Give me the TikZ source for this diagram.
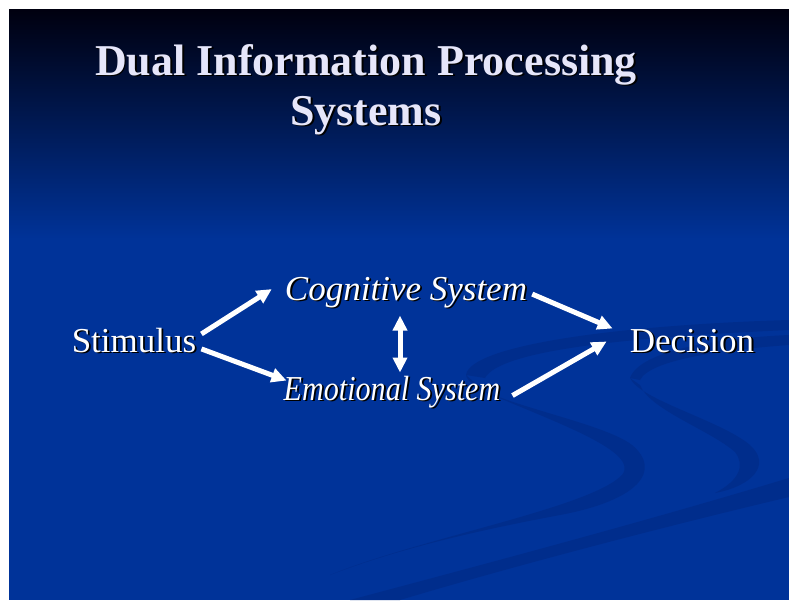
\documentclass[tikz,border=0pt]{standalone}
\usepackage{fontspec}
\setmainfont{Liberation Serif}
\newfontfamily\emofont[FakeStretch=0.86]{Liberation Serif}
\usepackage{tikz}
\usetikzlibrary{arrows.meta, calc}
\usepackage{xcolor}
\definecolor{slideTop}{HTML}{00000F}
\definecolor{slideBlue}{HTML}{003399}
\definecolor{swooshBlue}{HTML}{002D8C}
\definecolor{titleLavender}{HTML}{E6E6FA}
\definecolor{textShadow}{HTML}{000000}
\newcommand{\shadowed}[1]{\makebox[0pt][l]{\kern1.8pt\raisebox{-1.8pt}{\textcolor{textShadow}{#1}}}#1}
\tikzset{
    TitleText/.style={font=\fontsize{44}{50}\selectfont\bfseries, text=titleLavender, inner sep=0pt},
    PlainText/.style={font=\fontsize{35}{42}\selectfont, text=white, inner sep=0pt},
    SystemText/.style={font=\fontsize{35}{42}\selectfont\itshape, text=white, inner sep=0pt},
    Swoosh/.style={fill=swooshBlue, draw=none},
    FlowArrow/.style={-{Triangle[length=15pt, width=14pt]}, line width=5pt, white},
    BothArrow/.style={{Triangle[length=15pt, width=14pt]}-{Triangle[length=15pt, width=14pt]}, line width=5pt, white}
}

\begin{document}
\begin{tikzpicture}[x=1pt, y=-1pt]
    \useasboundingbox (0,0) rectangle (789,600);

    % slide background
    \shade[top color=slideTop, bottom color=slideBlue] (9,9) rectangle (789,240);
    \fill[slideBlue] (9,239.5) rectangle (789,600);

    % faint swooshes
    \begin{scope}
        \clip (9,9) rectangle (789,600);
        \path[Swoosh] (466,375) .. controls (470,345) and (620,325) .. (789,320) -- (789,330)
            .. controls (630,337) and (500,350) .. (485,378) -- cycle;
        \path[Swoosh] (466,375) .. controls (470,400) and (600,420) .. (632,445)
            .. controls (662,470) and (640,500) .. (560,515)
            .. controls (480,530) and (400,548) .. (330,575)
            .. controls (420,538) and (590,508) .. (622,475)
            .. controls (640,452) and (560,424) .. (485,392) -- cycle;
        \path[Swoosh] (630,378) .. controls (640,350) and (720,338) .. (789,335) -- (789,345)
            .. controls (720,350) and (650,360) .. (640,380) -- cycle;
        \path[Swoosh] (630,378) .. controls (640,400) and (720,420) .. (750,445)
            .. controls (772,465) and (752,486) .. (715,493)
            .. controls (740,480) and (745,465) .. (735,452)
            .. controls (710,430) and (650,410) .. (640,385) -- cycle;
        \path[Swoosh] (350,600) .. controls (500,560) and (650,520) .. (789,478) -- (789,497)
            .. controls (650,530) and (500,570) .. (400,600) -- cycle;
    \end{scope}

    % title, one line per node
    \node[TitleText, anchor=base] (title) at (366,75) {\shadowed{Dual Information Processing}};
    \node[TitleText, anchor=base] (subtitle) at (366,125) {\shadowed{Systems}};

    \node[PlainText, anchor=base] (stim) at (134,352) {\shadowed{Stimulus}};
    \node[PlainText, anchor=base] (dec) at (692,352) {\shadowed{Decision}};
    \node[SystemText, anchor=base] (cog) at (406,300) {\shadowed{Cognitive System}};
    \node[SystemText, anchor=base] (emo) at (392,400) {\emofont\itshape\shadowed{Emotional System}};

    % connectors
    \draw[FlowArrow] ($(stim.east)+(5,-7)$) -- ($(cog.west)+(-13,-4)$);
    \draw[FlowArrow] ($(stim.east)+(5,8)$) -- ($(emo.west)+(3,-12)$);
    \draw[BothArrow] ($(cog.south)+(-6,6)$) -- ($(emo.north)+(8,-3)$);
    \draw[FlowArrow] ($(cog.east)+(5,1)$) -- ($(dec.west)+(-17,-13)$);
    \draw[FlowArrow] ($(emo.east)+(12,3)$) -- ($(dec.west)+(-23,0)$);
\end{tikzpicture}
\end{document}
